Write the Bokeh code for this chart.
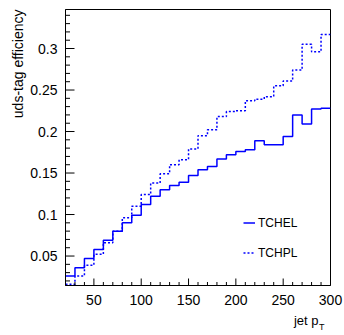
from bokeh.plotting import figure
from bokeh.models import (Range1d, SingleIntervalTicker, Legend, LegendItem, Title)
from bokeh.embed import file_html
from bokeh.resources import INLINE

# bin edges of jet pT (GeV)
bin_edges = [20, 30, 40, 50, 60, 70, 80, 90, 100, 110, 120, 130, 140, 150,
             160, 170, 180, 190, 200, 210, 220, 230, 240, 250, 260, 270, 280, 290, 300]

# uds-tag efficiency per bin
tchel = [0.026, 0.036, 0.047, 0.058, 0.069, 0.080, 0.090, 0.099, 0.112, 0.122,
         0.130, 0.135, 0.139, 0.147, 0.154, 0.158, 0.167, 0.172, 0.176, 0.178,
         0.189, 0.184, 0.184, 0.194, 0.220, 0.209, 0.227, 0.228]
tchpl = [0.016, 0.026, 0.039, 0.052, 0.066, 0.080, 0.096, 0.110, 0.124, 0.138,
         0.149, 0.160, 0.166, 0.179, 0.195, 0.202, 0.218, 0.224, 0.225, 0.237,
         0.239, 0.242, 0.255, 0.261, 0.274, 0.305, 0.296, 0.317]

series_names = ["TCHEL", "TCHPL"]
x_title = "jet p"
x_title_sub = "T"
y_title = "uds-tag efficiency"

# axis ranges and tick positions
x_lo, x_hi = 20, 300
y_lo, y_hi = 0.0145, 0.347
x_major = [50, 100, 150, 200, 250, 300]
x_minor = [v for v in range(30, 300, 10) if v % 50]
y_major = [0.05, 0.10, 0.15, 0.20, 0.25, 0.30]
y_minor = [k / 100 for k in range(2, 35) if k % 5]

FONT = "Liberation Sans"
W, H = 344, 335
BL, BR, BT, BB = 65, 14, 9, 50
frame_w = W - BL - BR
frame_h = H - BT - BB

p = figure(width=W, height=H, output_backend="svg", toolbar_location=None,
           x_range=Range1d(x_lo, x_hi), y_range=Range1d(y_lo, y_hi),
           min_border_left=BL, min_border_right=BR, min_border_top=BT,
           min_border_bottom=BB)
p.background_fill_color = "white"
p.border_fill_color = "white"
p.outline_line_color = "black"
p.outline_line_width = 1
p.xgrid.visible = False
p.ygrid.visible = False

# step histograms
r1 = p.step(bin_edges, tchel + [tchel[-1]], mode="after", line_color="#0000ff",
            line_width=1.5)
r2 = p.step(bin_edges, tchpl + [tchpl[-1]], mode="after", line_color="#0000ff",
            line_width=1.5, line_dash="2 2")

# axes (labels only; inward ticks drawn below)
p.xaxis.ticker = SingleIntervalTicker(interval=50, num_minor_ticks=5)
p.yaxis.ticker = SingleIntervalTicker(interval=0.05, num_minor_ticks=5)
for ax in (p.xaxis[0], p.yaxis[0]):
    ax.axis_line_color = "black"
    ax.major_tick_line_color = None
    ax.minor_tick_line_color = None
    ax.major_tick_out = 0
    ax.minor_tick_out = 0
    ax.major_tick_in = 0
    ax.minor_tick_in = 0
    ax.major_label_text_font = FONT
    ax.major_label_text_font_size = "14px"
    ax.major_label_text_color = "black"
p.xaxis.major_label_standoff = 9
p.yaxis.major_label_standoff = 8

# inward ticks (ROOT style), lengths given in pixels
px_x = (x_hi - x_lo) / frame_w
px_y = (y_hi - y_lo) / frame_h
TICK = dict(line_color="black", line_width=1)
p.segment(x0=[x_lo] * len(y_major), y0=y_major,
          x1=[x_lo + 9 * px_x] * len(y_major), y1=y_major, **TICK)
p.segment(x0=[x_lo] * len(y_minor), y0=y_minor,
          x1=[x_lo + 4.5 * px_x] * len(y_minor), y1=y_minor, **TICK)
p.segment(x0=x_major, y0=[y_lo] * len(x_major),
          x1=x_major, y1=[y_lo + 7 * px_y] * len(x_major), **TICK)
p.segment(x0=x_minor, y0=[y_lo] * len(x_minor),
          x1=x_minor, y1=[y_lo + 3.5 * px_y] * len(x_minor), **TICK)

# axis titles as side-panel titles (right/top aligned like ROOT)
p.add_layout(Title(text=y_title, align="right", offset=0, standoff=3,
                   text_font=FONT, text_font_size="14px",
                   text_font_style="normal", text_color="black"), "left")
p.add_layout(Title(text=x_title, align="right", offset=12, standoff=6,
                   text_font=FONT, text_font_size="13px",
                   text_font_style="normal", text_color="black"), "below")
p.add_layout(Title(text=x_title_sub, align="right", offset=6, standoff=-18,
                   vertical_align="top",
                   text_font=FONT, text_font_size="9px",
                   text_font_style="normal", text_color="black"), "below")

legend = Legend(items=[LegendItem(label=series_names[0], renderers=[r1]),
                       LegendItem(label=series_names[1], renderers=[r2])],
                location=(178, 25), orientation="vertical",
                glyph_width=12, glyph_height=15, label_height=15,
                spacing=15, padding=0, margin=0, label_standoff=3,
                border_line_color=None, background_fill_alpha=0,
                label_text_font=FONT, label_text_font_size="12px",
                label_text_color="black")
p.add_layout(legend)

open("out.html", "w").write(file_html(p, INLINE))
